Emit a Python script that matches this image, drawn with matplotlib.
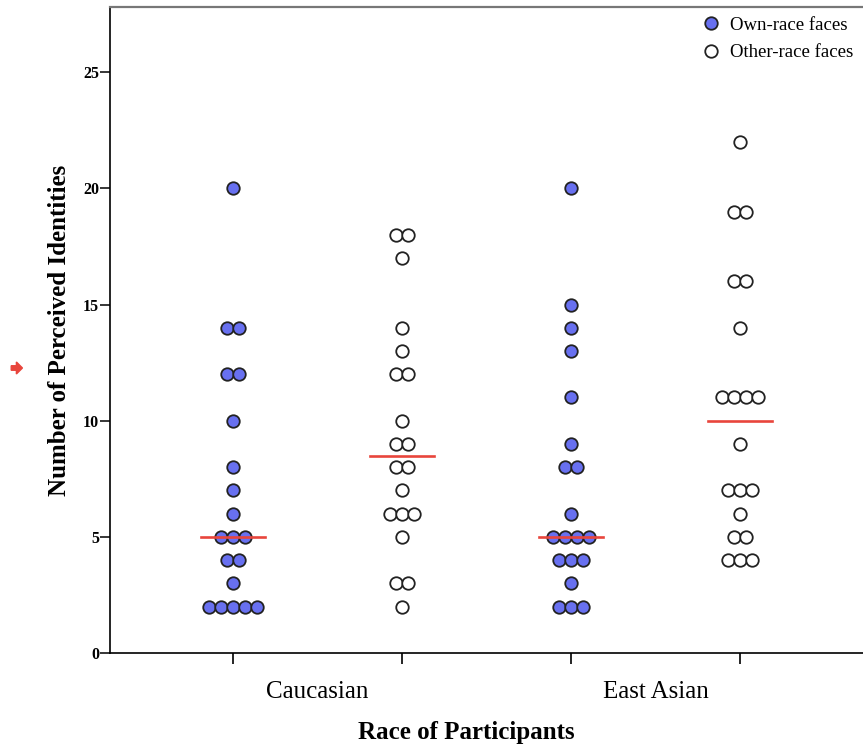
import numpy as np
import matplotlib.pyplot as plt
from matplotlib.patches import FancyArrow

# values (one entry per participant)
groups = ['Caucasian', 'East Asian']
cau_own = [20, 14, 14, 12, 12, 10, 8, 7, 6, 5, 5, 5, 4, 4, 3, 2, 2, 2, 2, 2]
cau_other = [18, 18, 17, 14, 13, 12, 12, 10, 9, 9, 8, 8, 7, 6, 6, 6, 5, 3, 3, 2]
ea_own = [20, 15, 14, 13, 11, 9, 8, 8, 6, 5, 5, 5, 5, 4, 4, 4, 3, 2, 2, 2]
ea_other = [22, 19, 19, 16, 16, 14, 11, 11, 11, 11, 9, 7, 7, 7, 6, 5, 5, 4, 4, 4]
y_ticks = [0, 5, 10, 15, 20, 25]

blue = '#6870f0'
red = '#e8453c'
serif = ['Liberation Serif', 'DejaVu Serif']

fig = plt.figure(figsize=(8.63, 7.51), dpi=100)
ax = fig.add_axes([0.1275, 0.1305, 0.8725, 0.860])

def dot_column(ax, x, vals, filled):
    step = 0.071
    vals = np.array(vals)
    for v in np.unique(vals):
        n = np.sum(vals == v)
        xs = x + (np.arange(n) - (n - 1) / 2.0) * step
        ax.plot(xs, [v] * n, 'o', ms=9.0, mec='#222222', mew=1.3,
                mfc=blue if filled else 'white', ls='none', zorder=3)
    med = np.median(vals)
    ax.plot([x - 0.19, x + 0.19], [med, med], color=red, lw=1.9, zorder=4)

cols = [(1, cau_own, True), (2, cau_other, False), (3, ea_own, True), (4, ea_other, False)]
for x, vals, filled in cols:
    dot_column(ax, x, vals, filled)

ax.set_xlim(0.275, 4.725)
ax.set_ylim(0, 27.8)

ax.set_xticks([1, 2, 3, 4])
ax.set_xticklabels([])
ax.set_xticks([1.5, 3.5], minor=True)
ax.set_xticklabels(groups, minor=True, fontsize=18, family=serif)
ax.tick_params(axis='x', which='major', length=8, width=1.2, direction='out')
ax.tick_params(axis='x', which='minor', length=0, pad=20)

ax.set_yticks(y_ticks)
ax.set_yticklabels([str(t) for t in y_ticks], fontsize=11.5, fontweight='bold', family=serif)
ax.tick_params(axis='y', length=7, width=1.1, direction='out', pad=1)

ax.spines['right'].set_visible(False)
ax.spines['top'].set_color('#777777')
ax.spines['top'].set_linewidth(1.6)
ax.spines['left'].set_linewidth(1.2)
ax.spines['bottom'].set_linewidth(1.2)

ax.set_xlabel('Race of Participants', fontsize=18, fontweight='bold', family=serif)
ax.xaxis.set_label_coords(0.473, -0.105)
ax.set_ylabel('Number of Perceived Identities', fontsize=18, fontweight='bold', family=serif)
ax.yaxis.set_label_coords(-0.052, 0.5)

h1, = ax.plot([], [], 'o', ms=9, mfc=blue, mec='#222222', mew=1.3, ls='none')
h2, = ax.plot([], [], 'o', ms=9, mfc='white', mec='#222222', mew=1.3, ls='none')
ax.legend([h1, h2], ['Own-race faces', 'Other-race faces'], loc='upper right',
          frameon=False, prop={'family': serif, 'size': 13.5}, handletextpad=0.55,
          labelspacing=0.55, borderaxespad=0.3, borderpad=0.2, handlelength=1.0)

# small red arrow marker at the left edge of the screenshot
fig.patches.append(FancyArrow(0.013, 0.510, 0.006, 0, width=0.006, head_width=0.016,
                              head_length=0.007, color=red, transform=fig.transFigure))

fig.savefig('out.png', dpi=100)
